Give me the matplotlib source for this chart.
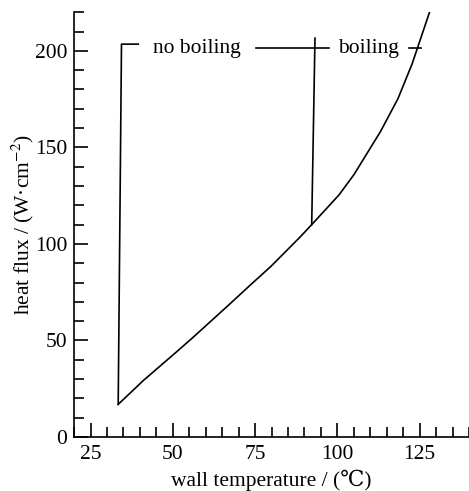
import matplotlib.pyplot as plt
from matplotlib.ticker import MultipleLocator

plt.rcParams['font.family'] = ['Liberation Serif', 'DejaVu Serif']
plt.rcParams['mathtext.fontset'] = 'stix'

# heat flux vs wall temperature
wall_temp = [33.4, 41.2, 51.0, 56.4, 67.0, 73.6, 79.7, 88.8, 92.2,
             100.5, 105.0, 113.1, 118.4, 122.7, 128.0]
heat_flux = [16.9, 29.5, 43.9, 52.0, 68.4, 78.8, 88.2, 103.8, 110.0,
             125.4, 135.8, 158.2, 175.2, 193.2, 220.0]

# region markers
no_boil_x = [33.4, 34.4, 39.5]
no_boil_y = [16.9, 203.5, 203.5]
boil_x = [92.2, 93.2]
boil_y = [110.0, 206.6]
split_x = [75.3, 97.4]
split_y = [201.7, 201.7]
dash_x = [121.8, 125.5]
dash_y = [201.7, 201.7]

fig = plt.figure(figsize=(4.69, 4.91), dpi=100)
ax = fig.add_axes([0.158, 0.110, 0.842, 0.865])

lw = 1.2
ax.plot(wall_temp, heat_flux, color='black', lw=lw)
ax.plot(no_boil_x, no_boil_y, color='black', lw=lw)
ax.plot(boil_x, boil_y, color='black', lw=lw)
ax.plot(split_x, split_y, color='black', lw=lw)
ax.plot(dash_x, dash_y, color='black', lw=lw)

ax.text(57.4, 201.0, 'no boiling', ha='center', va='center', fontsize=15.5)
ax.text(109.5, 201.0, 'boiling', ha='center', va='center', fontsize=15.5)

ax.set_xlim(20, 140)
ax.set_ylim(0, 220)
ax.xaxis.set_major_locator(MultipleLocator(25))
ax.xaxis.set_minor_locator(MultipleLocator(5))
ax.yaxis.set_major_locator(MultipleLocator(50))
ax.yaxis.set_minor_locator(MultipleLocator(10))
ax.tick_params(which='both', direction='in', width=1.2, labelsize=15.5)
ax.tick_params(which='major', length=10)
ax.tick_params(which='minor', length=7)
ax.tick_params(axis='y', pad=5)
ax.tick_params(axis='x', pad=6)

for s in ['top', 'right']:
    ax.spines[s].set_visible(False)
for s in ['left', 'bottom']:
    ax.spines[s].set_linewidth(1.2)

ax.set_xlabel('wall temperature / (\u2103)', fontsize=15.5, labelpad=4)
ax.set_ylabel('heat flux / (W\u00b7cm$^{-2}$)', fontsize=15.5, labelpad=-1)

fig.savefig('out.png', dpi=100)
